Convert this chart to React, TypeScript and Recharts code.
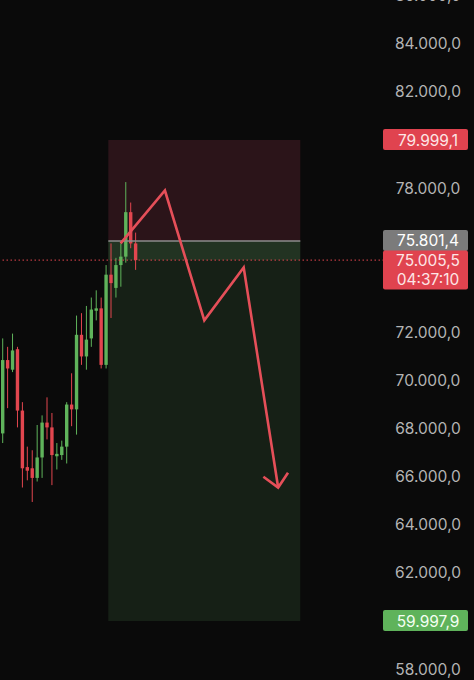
import React from "react";
import {
  ComposedChart,
  Bar,
  Line,
  XAxis,
  YAxis,
  ReferenceArea,
  ReferenceLine,
} from "recharts";

// candles, oldest first
const OPEN = [
  67800, 70850, 70450, 71300, 68750, 66400, 66350, 65950, 66800, 68250, 68050, 66850, 66900, 67250,
  69000, 68800, 71900, 71000, 71750, 72900, 73000, 70650, 74400, 73850, 74800, 75150, 77000, 75700,
];
const HIGH = [
  71750, 71400, 71950, 71400, 69100, 67250, 67100, 68150, 68550, 69300, 68650, 67400, 67500, 69100,
  70300, 72700, 72800, 73100, 73450, 73750, 73450, 74800, 75700, 75100, 75700, 78250, 77400, 76150,
];
const LOW = [
  67400, 68850, 70350, 68050, 65550, 65850, 64950, 65800, 65950, 67550, 65650, 66300, 66700, 66550,
  68100, 67750, 70650, 70450, 71400, 72500, 70500, 70500, 72600, 73450, 73900, 74900, 75500, 74600,
];
const CLOSE = [
  70850, 70500, 71250, 68750, 66350, 66250, 65950, 66800, 68250, 68050, 66900, 66950, 67250, 69000,
  68800, 71900, 71000, 71700, 72950, 73000, 70650, 74400, 74050, 74800, 75150, 77000, 75700, 75005.5,
];

// drawn arrow (slot index, price)
const ARROW_IDX = [24, 33, 41, 49, 56];
const ARROW_PRICE = [75700, 77900, 72500, 74700, 65550];
const HEAD_IDX = [53, 56, 58];
const HEAD_PRICE = [66000, 65550, 66166];

// short position tool
const STOP = 79999.1;
const ENTRY = 75801.4;
const TARGET = 59997.9;
const LAST = 75005.5;
const COUNTDOWN = "04:37:10";
const ZONE_FROM = 22;
const ZONE_TO = 60;

const SLOTS = 78;
const TICKS = [58000, 62000, 64000, 66000, 68000, 70000, 72000, 78000, 82000, 84000, 86000];

const UP = "#5fb35b";
const DOWN = "#e2464f";
const FONT = "Inter, 'Noto Sans', sans-serif";

const fmt = (v: number) => {
  const [int, frac] = v.toFixed(1).split(".");
  return `${int.replace(/\B(?=(\d{3})+(?!\d))/g, ".")},${frac}`;
};

const data = Array.from({ length: SLOTS }, (_, i) => {
  const a = ARROW_IDX.indexOf(i);
  const h = HEAD_IDX.indexOf(i);
  return {
    i,
    open: OPEN[i] ?? null,
    high: HIGH[i] ?? null,
    low: LOW[i] ?? null,
    close: CLOSE[i] ?? null,
    arrow: a >= 0 ? ARROW_PRICE[a] : null,
    head: h >= 0 ? HEAD_PRICE[h] : null,
  };
});

const Candle = (props: any) => {
  const { x, y, width, height, payload } = props;
  if (!payload || payload.high == null) return null;
  const top = Math.min(y, y + height);
  const h = Math.abs(height);
  const { open, high, low, close } = payload;
  const py = (v: number) => top + ((high - v) / (high - low)) * h;
  const color = close >= open ? UP : DOWN;
  const bTop = py(Math.max(open, close));
  const bH = Math.max(1, py(Math.min(open, close)) - bTop);
  const cx = x + width / 2;
  return (
    <g>
      <line x1={cx} x2={cx} y1={top} y2={top + h} stroke={color} strokeWidth={1} />
      <rect x={x} y={bTop} width={width} height={bH} fill={color} />
    </g>
  );
};

const PriceTag = (props: any) => {
  const { viewBox, bg, color, lines, tall } = props;
  if (!viewBox) return null;
  const right = viewBox.x + viewBox.width;
  const cy = viewBox.y;
  const h = tall ? 39 : 21;
  const top = tall ? cy - 9.5 : cy - 11;
  return (
    <g>
      <rect x={right - 1} y={top} width={85} height={h} rx={2} fill={bg} />
      {lines.map((t: string, k: number) => (
        <text
          key={k}
          x={right + 44}
          y={cy + k * 19}
          textAnchor="middle"
          dominantBaseline="central"
          fill={color}
          fontSize={15.5}
          fontFamily={FONT}
        >
          {t}
        </text>
      ))}
    </g>
  );
};

const AxisTick = (props: any) => {
  const { x, y, payload } = props;
  return (
    <text
      x={x + 44}
      y={y}
      textAnchor="middle"
      dominantBaseline="central"
      fill="#b4b4b4"
      fontSize={15.5}
      fontFamily={FONT}
    >
      {fmt(payload.value)}
    </text>
  );
};

export default function App() {
  return (
    <div style={{ position: "absolute", left: 0, top: -20, width: 474, height: 700, background: "#0a0a0a" }}>
      <ComposedChart width={474} height={700} data={data} margin={{ top: 0, right: 0, bottom: 0, left: 0 }}>
        <XAxis dataKey="i" type="category" hide />
        <YAxis
          orientation="right"
          width={90}
          domain={[57547, 86653]}
          allowDataOverflow
          ticks={TICKS}
          interval={0}
          axisLine={false}
          tickLine={false}
          tickSize={0}
          tickMargin={0}
          tick={<AxisTick />}
        />
        <ReferenceArea x1={ZONE_FROM} x2={ZONE_TO} y1={ENTRY} y2={STOP} fill="#2b1419" fillOpacity={1} stroke="none" />
        <ReferenceArea x1={ZONE_FROM} x2={ZONE_TO} y1={LAST} y2={ENTRY} fill="#223322" fillOpacity={1} stroke="none" />
        <ReferenceArea x1={ZONE_FROM} x2={ZONE_TO} y1={TARGET} y2={LAST} fill="#162016" fillOpacity={1} stroke="none" />
        <ReferenceLine
          segment={[
            { x: ZONE_FROM, y: ENTRY },
            { x: ZONE_TO + 1, y: ENTRY },
          ]}
          position="start"
          stroke="#8c8c8c"
          strokeWidth={1.5}
        />
        <Bar
          dataKey={(d: any) => (d.high == null ? null : [d.low, d.high])}
          barSize={3.4}
          shape={<Candle />}
          isAnimationActive={false}
        />
        <ReferenceLine y={LAST} stroke={DOWN} strokeWidth={1} strokeDasharray="1.5 2.5" />
        <Line
          dataKey="arrow"
          type="linear"
          connectNulls
          dot={false}
          stroke="#e54f59"
          strokeWidth={2.6}
          isAnimationActive={false}
        />
        <Line
          dataKey="head"
          type="linear"
          connectNulls
          dot={false}
          stroke="#e54f59"
          strokeWidth={2.6}
          isAnimationActive={false}
        />
        <ReferenceLine
          y={STOP}
          stroke="none"
          label={<PriceTag bg="#e0434f" color="#fde6e6" lines={[fmt(STOP)]} />}
        />
        <ReferenceLine
          y={ENTRY}
          stroke="none"
          label={<PriceTag bg="#7b7b7b" color="#ffffff" lines={[fmt(ENTRY)]} />}
        />
        <ReferenceLine
          y={LAST}
          stroke="none"
          label={<PriceTag bg="#e0434f" color="#fde6e6" lines={[fmt(LAST), COUNTDOWN]} tall />}
        />
        <ReferenceLine
          y={TARGET}
          stroke="none"
          label={<PriceTag bg="#5fb35b" color="#f4fff2" lines={[fmt(TARGET)]} />}
        />
      </ComposedChart>
    </div>
  );
}
